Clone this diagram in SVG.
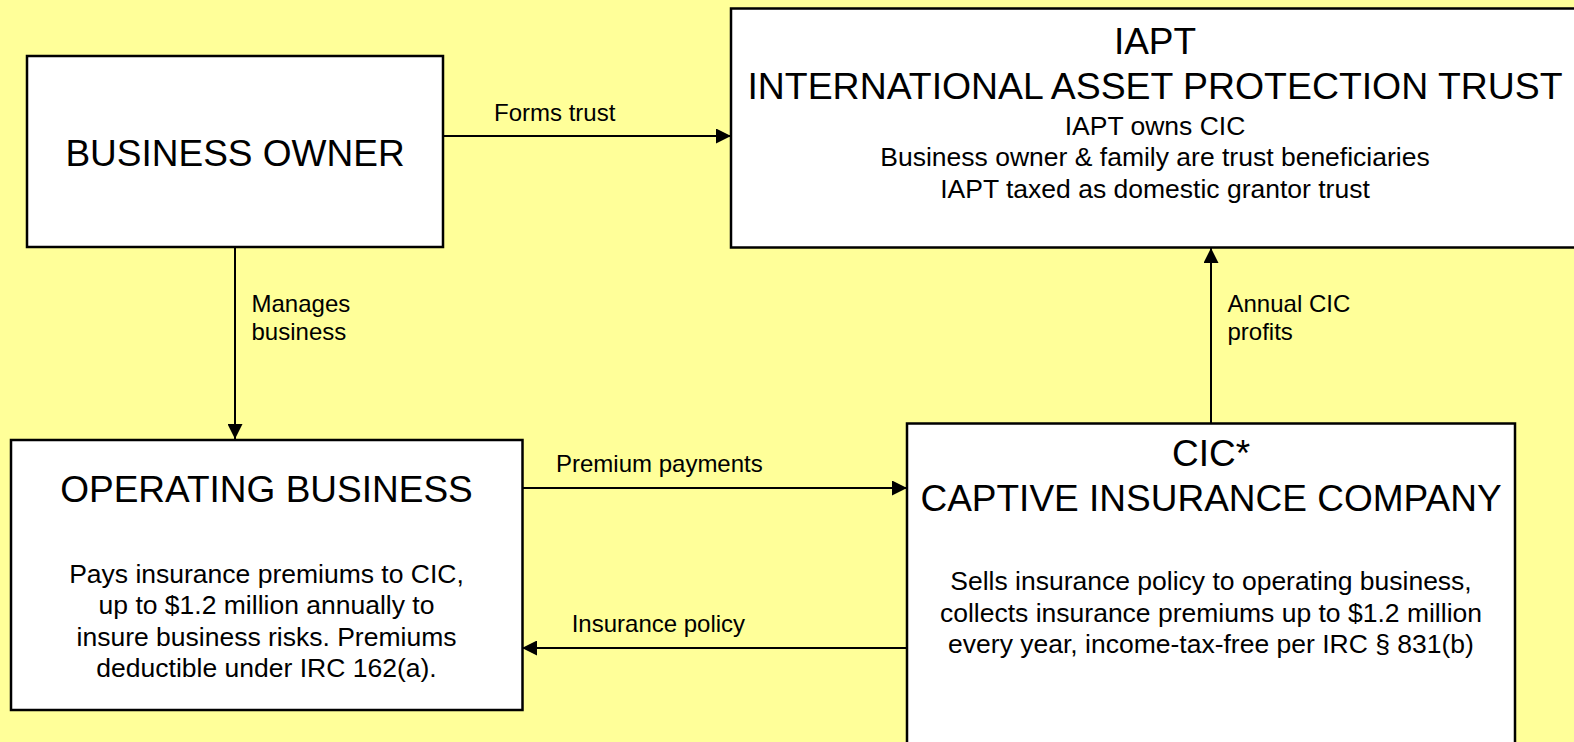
<svg xmlns="http://www.w3.org/2000/svg" width="1574" height="742" viewBox="0 0 1574 742">
<style>
  .box { fill: #FFFFFF; stroke: #000000; stroke-width: 2.5; }
  .conn { stroke: #000000; stroke-width: 2; fill: none; marker-end: url(#arrow); }
  text { font-family: "Liberation Sans", Arial, sans-serif; fill: #000000; }
  .title { font-size: 37px; text-anchor: middle; }
  .body { font-size: 26.5px; text-anchor: middle; }
  .label { font-size: 24px; }
</style>
<defs>
  <marker id="arrow" markerUnits="userSpaceOnUse" markerWidth="15" markerHeight="15" refX="15" refY="7.5" orient="auto" viewBox="0 0 15 15">
    <path d="M0,0 L15,7.5 L0,15 Z" fill="#000000"/>
  </marker>
</defs>
<rect x="0" y="0" width="1574" height="742" fill="#FFFF99"/>

<g id="connectors">
  <line class="conn" x1="443" y1="136" x2="731" y2="136"/>
  <line class="conn" x1="235" y1="247" x2="235" y2="439"/>
  <line class="conn" x1="522" y1="488" x2="907" y2="488"/>
  <line class="conn" x1="907" y1="648" x2="522" y2="648"/>
  <line class="conn" x1="1211" y1="423" x2="1211" y2="248"/>
  <text class="label" x="494" y="121">Forms trust</text>
  <text class="label" x="251.5" y="311.7">Manages</text>
  <text class="label" x="251.5" y="340">business</text>
  <text class="label" x="1227.5" y="311.7">Annual CIC</text>
  <text class="label" x="1227.5" y="340">profits</text>
  <text class="label" x="556" y="471.7">Premium payments</text>
  <text class="label" x="571.7" y="631.7">Insurance policy</text>
</g>

<g id="business-owner">
  <rect class="box" x="27" y="56" width="416" height="191"/>
  <text class="title" x="235" y="166">BUSINESS OWNER</text>
</g>

<g id="iapt">
  <rect class="box" x="731" y="8.5" width="860" height="239"/>
  <text class="title" x="1155" y="54">IAPT</text>
  <text class="title" x="1155" y="99" style="font-size:37.4px">INTERNATIONAL ASSET PROTECTION TRUST</text>
  <text class="body" x="1155" y="135">IAPT owns CIC</text>
  <text class="body" x="1155" y="166">Business owner &amp; family are trust beneficiaries</text>
  <text class="body" x="1155" y="198">IAPT taxed as domestic grantor trust</text>
</g>

<g id="operating-business">
  <rect class="box" x="11" y="440" width="511.5" height="270"/>
  <text class="title" x="266.5" y="502">OPERATING BUSINESS</text>
  <text class="body" x="266.5" y="583">Pays insurance premiums to CIC,</text>
  <text class="body" x="266.5" y="614">up to $1.2 million annually to</text>
  <text class="body" x="266.5" y="645.5">insure business risks. Premiums</text>
  <text class="body" x="266.5" y="677">deductible under IRC 162(a).</text>
</g>

<g id="cic">
  <rect class="box" x="907" y="423.5" width="608" height="340"/>
  <text class="title" x="1211" y="466">CIC*</text>
  <text class="title" x="1211" y="511">CAPTIVE INSURANCE COMPANY</text>
  <text class="body" x="1211" y="590">Sells insurance policy to operating business,</text>
  <text class="body" x="1211" y="621.5">collects insurance premiums up to $1.2 million</text>
  <text class="body" x="1211" y="652.5">every year, income-tax-free per IRC § 831(b)</text>
</g>
</svg>
